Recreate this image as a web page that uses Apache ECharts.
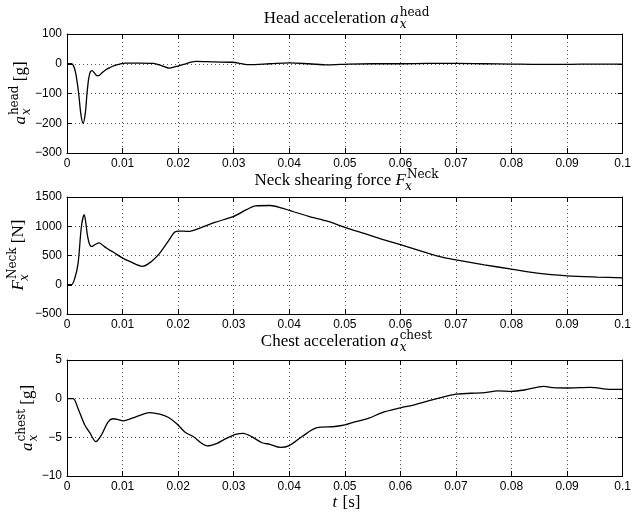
<!DOCTYPE html>
<html>
<head>
<meta charset="utf-8">
<script src="https://cdn.jsdelivr.net/npm/echarts@6/dist/echarts.min.js"></script>
<style>
  html, body { margin: 0; padding: 0; background: #fff; }
  #chart { width: 634px; height: 515px; }
</style>
</head>
<body>
<div id="chart"></div>
<script>
// time axis ticks
const tTicks = [0, 0.01, 0.02, 0.03, 0.04, 0.05, 0.06, 0.07, 0.08, 0.09, 0.1];

// head acceleration [g]
const headT = [0, 0.0008, 0.0012, 0.0016, 0.0021, 0.0025, 0.0029, 0.0033, 0.0036, 0.0039, 0.0042, 0.0045, 0.0049, 0.0053, 0.0057, 0.0063, 0.007, 0.0077, 0.0085, 0.0095, 0.0105, 0.013, 0.0155, 0.017, 0.0184, 0.0195, 0.021, 0.0232, 0.0265, 0.0297, 0.0327, 0.0365, 0.04, 0.0435, 0.047, 0.0506, 0.055, 0.06, 0.065, 0.07, 0.075, 0.08, 0.085, 0.09, 0.095, 0.1];
const headA = [0, 0, -8, -35, -100, -170, -200, -165, -100, -50, -27, -23, -30, -39, -40, -30, -20, -13, -6, -1, 2, 2, 1, -6, -15, -10, -2, 8, 6, 5, -3, 0, 3, 0, -4, -1, 0, 0, 1, 1, 0, -1, -2, -2, -1, -1];

// neck shearing force [N]
const neckT = [0, 0.0008, 0.0014, 0.002, 0.0026, 0.0031, 0.0034, 0.0037, 0.0041, 0.0045, 0.005, 0.0058, 0.0065, 0.0071, 0.0083, 0.01, 0.0113, 0.0136, 0.0152, 0.0167, 0.0182, 0.0194, 0.0203, 0.0218, 0.0239, 0.0266, 0.03, 0.0323, 0.0339, 0.0366, 0.0387, 0.04, 0.0435, 0.047, 0.05, 0.0536, 0.0566, 0.06, 0.0649, 0.0675, 0.07, 0.0751, 0.08, 0.0846, 0.09, 0.0954, 0.1];
const neckF = [0, 0, 110, 370, 1000, 1200, 1050, 830, 680, 655, 684, 715, 670, 627, 559, 456, 399, 315, 399, 541, 741, 900, 918, 912, 969, 1066, 1169, 1283, 1350, 1355, 1311, 1271, 1169, 1083, 981, 872, 781, 684, 541, 471, 426, 341, 267, 199, 153, 131, 119];

// chest acceleration [g]
const chestT = [0, 0.0011, 0.002, 0.0032, 0.0041, 0.0052, 0.0062, 0.0074, 0.0083, 0.0092, 0.0101, 0.0116, 0.014, 0.0149, 0.0167, 0.0182, 0.0197, 0.0212, 0.0227, 0.0252, 0.0269, 0.0287, 0.0305, 0.0317, 0.0332, 0.0351, 0.0365, 0.0384, 0.04, 0.0423, 0.045, 0.0482, 0.05, 0.0518, 0.0542, 0.0566, 0.06, 0.0625, 0.065, 0.0685, 0.07, 0.0751, 0.0775, 0.08, 0.0823, 0.0858, 0.0876, 0.09, 0.0942, 0.0978, 0.1];
const chestA = [0, 0, -1.3, -3.4, -4.4, -5.56, -4.7, -3.0, -2.6, -2.7, -2.86, -2.56, -1.92, -1.8, -2.0, -2.4, -3.2, -4.3, -4.9, -6.1, -5.8, -5.13, -4.6, -4.5, -4.9, -5.7, -5.9, -6.3, -6.07, -4.9, -3.76, -3.6, -3.4, -3.0, -2.56, -1.84, -1.2, -0.8, -0.3, 0.35, 0.6, 0.78, 1.0, 0.95, 1.12, 1.6, 1.42, 1.38, 1.47, 1.2, 1.2];

// y axis ranges: [min, max, interval]
const yRanges = [[-300, 100, 100], [-500, 1500, 500], [-10, 5, 5]];

const SERIF = '"Liberation Serif", "DejaVu Serif", serif';
const SCRIPT = '"DejaVu Serif", serif'; // wider face for the small sub/superscripts
const SANS = '"Liberation Sans", Arial, sans-serif';

const L = 67, W = 559;
const grids = [
  { left: L, top: 34, width: W, height: 119 },
  { left: L, top: 197, width: W, height: 117 },
  { left: L, top: 360, width: W, height: 116 }
];

const ctx = document.createElement('canvas').getContext('2d');
function tw(text, font) { ctx.font = font; return ctx.measureText(text).width; }

function txt(text, x, base, size, font) {
  return { type: 'text', x, y: base - 0.3 * size,
    style: { text, font, fill: '#000', verticalAlign: 'middle' } };
}

// lay out a little bit of TeX-ish math along a baseline at y = 0
function mathLabel(segs, fs) {
  const els = [];
  let x = 0;
  const sm = Math.round(fs * 0.7);
  segs.forEach((s) => {
    if (s.rm != null) {
      const f = `${fs}px ${SERIF}`;
      els.push(txt(s.rm, x, 0, fs, f));
      x += tw(s.rm, f);
    } else {
      const f = `italic ${fs}px ${SERIF}`;
      els.push(txt(s.it, x, 0, fs, f));
      x += tw(s.it, f) + 1;
      let w = 0;
      if (s.sub) {
        const fb = `italic ${sm}px ${SCRIPT}`;
        els.push(txt(s.sub, x - (s.tuck || 0), fs * 0.25, sm, fb));
        w = tw(s.sub, fb) - (s.tuck || 0);
      }
      if (s.sup) {
        const fp = `${sm}px ${SCRIPT}`;
        els.push(txt(s.sup, x, -fs * 0.42, sm, fp));
        w = Math.max(w, tw(s.sup, fp));
      }
      x += w;
    }
  });
  return { els, width: x };
}

function centered(segs, fs, cx, base) {
  const m = mathLabel(segs, fs);
  return { type: 'group', x: cx - m.width / 2, y: base, children: m.els };
}

function vertical(segs, fs, bx, cy) {
  const m = mathLabel(segs, fs);
  m.els.forEach((e) => { e.x -= m.width / 2; });
  return { type: 'group', x: bx, y: cy, rotation: Math.PI / 2, children: m.els };
}

const cx = L + W / 2;
const graphic = [
  centered([{ rm: 'Head acceleration ' }, { it: 'a', sub: 'x', sup: 'head' }], 17, cx, 24),
  centered([{ rm: 'Neck shearing force ' }, { it: 'F', sub: 'x', sup: 'Neck', tuck: 2 }], 17, cx, 186),
  centered([{ rm: 'Chest acceleration ' }, { it: 'a', sub: 'x', sup: 'chest' }], 17, cx, 347),
  vertical([{ it: 'a', sub: 'x', sup: 'head' }, { rm: ' [g]' }], 17, 26, 93),
  vertical([{ it: 'F', sub: 'x', sup: 'Neck', tuck: 2 }, { rm: ' [N]' }], 17, 24, 255),
  vertical([{ it: 'a', sub: 'x', sup: 'chest' }, { rm: ' [g]' }], 17, 33, 418),
  centered([{ it: 't' }, { rm: ' [s]' }], 17, cx, 508)
];

const black = { color: '#000', width: 1 };
const dotted = { color: '#555', width: 1, type: [1, 3] };
const fmtT = (v) => String(+v.toFixed(2));
const fmtY = (v) => String(v).replace('-', '\u2212');

const xAxis = [], yAxis = [], series = [];
const data = [[headT, headA], [neckT, neckF], [chestT, chestA]];
grids.forEach((g, i) => {
  xAxis.push({
    gridIndex: i, type: 'value', min: tTicks[0], max: tTicks[tTicks.length - 1], interval: 0.01,
    axisLine: { onZero: false, lineStyle: black },
    axisTick: { inside: true, length: 5, lineStyle: black },
    axisLabel: { margin: 5, color: '#000', fontFamily: SANS, fontSize: 12, formatter: fmtT },
    splitLine: { show: true, lineStyle: dotted }
  }, {
    gridIndex: i, type: 'value', position: 'top', min: 0, max: 0.1, interval: 0.01,
    axisLine: { onZero: false, lineStyle: black },
    axisTick: { inside: true, length: 5, lineStyle: black },
    axisLabel: { show: false }, splitLine: { show: false }
  });
  const [mn, mx, iv] = yRanges[i];
  yAxis.push({
    gridIndex: i, type: 'value', min: mn, max: mx, interval: iv,
    axisLine: { show: true, onZero: false, lineStyle: black },
    axisTick: { show: true, inside: true, length: 5, lineStyle: black },
    axisLabel: { margin: 5, color: '#000', fontFamily: SANS, fontSize: 12, formatter: fmtY },
    splitLine: { show: true, lineStyle: dotted }
  }, {
    gridIndex: i, type: 'value', position: 'right', min: mn, max: mx, interval: iv,
    axisLine: { show: true, onZero: false, lineStyle: black },
    axisTick: { show: true, inside: true, length: 5, lineStyle: black },
    axisLabel: { show: false }, splitLine: { show: false }
  });
  const [ts, vs] = data[i];
  series.push({
    type: 'line', xAxisIndex: 2 * i, yAxisIndex: 2 * i,
    data: ts.map((t, k) => [t, vs[k]]),
    showSymbol: false, smooth: 0.3,
    lineStyle: { color: '#000', width: 1.3 }
  });
});

const chart = echarts.init(document.getElementById('chart'));
chart.setOption({
  animation: false,
  backgroundColor: '#fff',
  grid: grids,
  xAxis, yAxis, series, graphic
});
</script>
</body>
</html>
